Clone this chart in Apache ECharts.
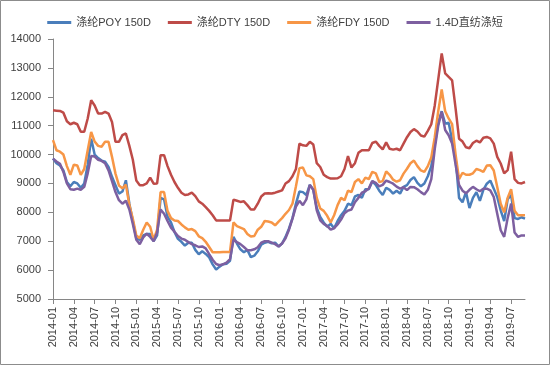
<!DOCTYPE html>
<html>
<head>
<meta charset="utf-8">
<script src="https://cdn.jsdelivr.net/npm/echarts@6/dist/echarts.min.js"></script>
<style>
html,body{margin:0;padding:0;background:#fff;}
#c{width:550px;height:365px;}
</style>
</head>
<body>
<div id="c"></div>
<script>
// Semi-monthly observations from 2014-01 to 2019-09
var startYear = 2014, startMonth = 1, nMonths = 68;
var tickLabels = ['2014-01','2014-04','2014-07','2014-10','2015-01','2015-04','2015-07','2015-10',
  '2016-01','2016-04','2016-07','2016-10','2017-01','2017-04','2017-07','2017-10',
  '2018-01','2018-04','2018-07','2018-10','2019-01','2019-04','2019-07'];
var seriesNames = ['涤纶POY 150D','涤纶DTY 150D','涤纶FDY 150D','1.4D直纺涤短'];

var poy = [9860,9700,9620,9450,9050,8900,9050,9000,8850,9000,9650,10550,10000,9880,9790,9750,9570,9230,8940,8650,
  8720,9110,8300,7700,7100,7050,7200,7250,7250,7000,7200,8500,8450,7850,7650,7320,7080,6980,6850,6950,
  6950,6700,6550,6650,6560,6440,6200,6020,6120,6200,6220,6320,7150,6920,6720,6620,6700,6450,6500,6650,
  6880,6950,6980,6930,6950,6820,6920,7150,7440,7800,8300,8720,8700,8600,8950,8780,8150,7840,7650,7500,
  7600,7450,7700,7900,8050,8300,8250,8550,8600,8500,8800,8800,9080,8950,8750,8600,8850,8780,8650,8750,
  8650,8880,8940,9120,9220,9020,8900,9000,9250,9600,10350,11100,11500,11070,11100,10500,9850,8500,8350,8700,
  8150,8500,8700,8400,8780,8990,9100,8820,8530,8070,7700,8450,8600,7800,7770,7830,7780];
var dty = [11530,11520,11510,11450,11150,11050,11100,11050,10790,10790,11250,11880,11700,11420,11420,11480,11420,11130,10440,10440,
  10670,10730,10300,9820,9100,8940,8940,9000,9200,8990,9000,9980,9980,9600,9300,9050,8850,8680,8600,8620,
  8680,8560,8380,8300,8180,8050,7900,7720,7720,7720,7720,7720,8440,8400,8360,8380,8250,8100,8100,8300,
  8550,8650,8660,8650,8680,8720,8760,9000,9080,9250,9500,10380,10320,10300,10440,10350,9700,9570,9300,9220,
  9170,9170,9180,9250,9500,9950,9550,9700,10060,10150,10150,10150,10400,10450,10300,10180,10420,10200,10170,10200,
  10150,10380,10600,10780,10880,10800,10660,10620,10820,11050,11700,12600,13500,12810,12690,12570,11600,10550,10450,10250,
  10220,10400,10480,10420,10580,10610,10560,10380,9920,9690,9350,9460,10100,9150,9020,9000,9050];
var fdy = [10500,10150,10100,10000,9600,9300,9650,9620,9300,9500,10150,10780,10450,10300,10270,10440,10440,9920,9340,8930,
  8830,8960,8250,7780,7200,7100,7400,7650,7500,7050,7400,8700,8700,8050,7800,7720,7700,7580,7480,7400,
  7420,7350,7170,7110,6980,6800,6620,6620,6620,6630,6630,6630,7650,7520,7470,7420,7250,7160,7180,7400,
  7500,7700,7680,7650,7550,7680,7800,7950,8080,8300,8900,9530,9550,9280,9250,9150,8500,8130,8050,7880,
  7650,7900,8250,8500,8420,8750,8700,9050,9150,9000,9200,9150,9400,9350,9050,9080,9420,9300,9130,9060,
  9110,9340,9510,9700,9790,9600,9450,9400,9600,9900,10600,11500,12250,11500,11250,11050,10000,9150,9370,9300,
  9300,9350,9500,9460,9400,9620,9630,9450,8880,8300,8000,8500,8800,8050,7900,7900,7900];
var psf = [9860,9760,9680,9400,9000,8800,8780,8820,8780,8880,9350,9950,9930,9820,9780,9700,9450,9080,8700,8420,
  8300,8400,8100,7600,7050,6900,7130,7260,7150,7000,7300,8100,7950,7700,7470,7330,7180,7090,7050,6970,
  6900,6860,6800,6820,6750,6550,6360,6210,6170,6200,6260,6380,7050,6970,6900,6800,6690,6690,6720,6790,
  6950,7000,7000,6950,6900,6820,6920,7100,7400,7780,8200,8400,8250,8450,8950,8780,8070,7720,7600,7530,
  7400,7450,7580,7750,7970,8060,8100,8350,8500,8680,8730,8830,9080,9020,8900,8950,9100,9050,8990,8890,
  8820,8870,8770,8880,8870,8800,8700,8620,8780,9150,10200,11000,11480,10850,10670,10380,9650,8950,8750,8660,
  8780,8880,8800,8730,8820,8820,8760,8530,7950,7380,7150,7800,8300,7300,7150,7200,7200];

var categories = [];
for (var k = 0; k <= nMonths * 2; k++) {
  var mi = Math.floor(k / 2);
  var y = startYear + Math.floor((startMonth - 1 + mi) / 12);
  var mo = ((startMonth - 1 + mi) % 12) + 1;
  categories.push(y + '-' + (mo < 10 ? '0' + mo : mo) + (k % 2 ? '-16' : '-01'));
}
function isTick(idx, val) {
  return val.slice(8) === '01' && tickLabels.indexOf(val.slice(0, 7)) >= 0;
}

var latin = 'Liberation Sans, Arial, Noto Sans CJK SC, sans-serif';
var colors = ['#4a7ebb', '#be4b48', '#f79646', '#7d5fa0'];
var chart = echarts.init(document.getElementById('c'), null, {renderer: 'canvas'});
var dataArr = [poy, dty, fdy, psf];
chart.setOption({
  animation: false,
  color: colors,
  textStyle: {fontFamily: latin},
  graphic: [{type: 'rect', shape: {x: 0.5, y: 0.5, width: 549, height: 364},
    style: {fill: 'none', stroke: '#8c8c8c', lineWidth: 1}, silent: true}],
  legend: {
    top: 12, left: 'center', icon: 'rect', itemWidth: 24, itemHeight: 3, itemGap: 17,
    textStyle: {fontSize: 11, color: '#404040', fontFamily: latin},
    data: seriesNames
  },
  grid: {left: 53, right: 25, top: 39, bottom: 66, containLabel: false},
  xAxis: {
    type: 'category', data: categories, boundaryGap: false,
    axisLine: {lineStyle: {color: '#868686', width: 1}},
    axisTick: {show: true, interval: isTick, length: 5, inside: false, lineStyle: {color: '#868686'}},
    axisLabel: {interval: isTick, rotate: 90, fontSize: 11, color: '#404040', margin: 8, fontFamily: latin,
      formatter: function (v) { return v.slice(0, 7); }},
    splitLine: {show: false}
  },
  yAxis: {
    type: 'value', min: 5000, max: 14000, interval: 1000,
    axisLine: {show: true, lineStyle: {color: '#868686', width: 1}},
    axisTick: {show: true, length: 5, lineStyle: {color: '#868686'}},
    axisLabel: {fontSize: 11, color: '#404040', margin: 12, fontFamily: latin,
      formatter: function (v) { return String(v); }},
    splitLine: {show: false}
  },
  series: seriesNames.map(function (n, i) {
    return {name: n, type: 'line', data: dataArr[i], symbol: 'none', showSymbol: false,
      lineStyle: {width: 2.5, color: colors[i]}, itemStyle: {color: colors[i]}, z: 2 + i};
  })
});
</script>
</body>
</html>
